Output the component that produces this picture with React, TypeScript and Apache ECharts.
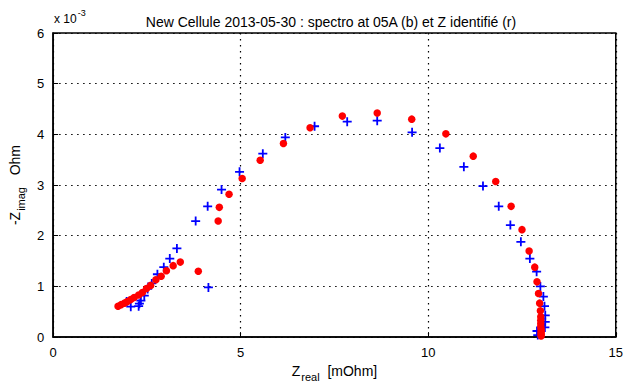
import React, { useEffect, useRef } from "react";
import * as echarts from "echarts";

const title = "New Cellule 2013-05-30 : spectro at 05A (b) et Z identifié (r)";
const xTicks = [0, 5, 10, 15];
const yTicks = [0, 1, 2, 3, 4, 5, 6];

// spectro (blue): [Zreal mOhm, -Zimag x1e-3 Ohm]
const spectroReal = [1.96, 2.07, 2.28, 2.30, 2.34, 2.43, 2.52, 2.63, 2.78, 2.95, 3.11, 3.30, 4.14,
  3.80, 4.12, 4.49, 4.97, 5.59, 6.19, 6.97, 7.84, 8.64, 9.57, 10.31, 10.95, 11.46, 11.88, 12.19,
  12.47, 12.71, 12.89, 12.99, 13.07, 13.10, 13.12, 13.12, 13.11, 12.90, 12.92];
const spectroImag = [0.70, 0.60, 0.61, 0.66, 0.72, 0.82, 0.95, 1.06, 1.24, 1.38, 1.55, 1.75, 0.98,
  2.29, 2.58, 2.91, 3.26, 3.62, 3.94, 4.16, 4.25, 4.27, 4.04, 3.73, 3.36, 2.98, 2.58, 2.21,
  1.88, 1.55, 1.29, 1.00, 0.80, 0.61, 0.43, 0.30, 0.19, 0.12, 0.04];

// identified (red)
const identReal = [1.73, 1.81, 1.90, 1.98, 2.07, 2.16, 2.28, 2.38, 2.49, 2.60, 2.74, 2.88, 3.02, 3.20,
  3.39, 3.87, 4.40, 4.43, 4.69, 5.04, 5.52, 6.14, 6.85, 7.71, 8.64, 9.56, 10.47, 11.20, 11.80, 12.21,
  12.50, 12.69, 12.84, 12.90, 12.94, 12.97, 12.99, 13.00, 13.00, 13.00, 13.00, 13.01, 13.01, 13.01,
  13.01, 13.01];
const identImag = [0.61, 0.64, 0.67, 0.70, 0.74, 0.78, 0.83, 0.88, 0.96, 1.02, 1.13, 1.20, 1.31, 1.41,
  1.48, 1.30, 2.29, 2.56, 2.82, 3.13, 3.49, 3.82, 4.13, 4.36, 4.42, 4.30, 4.01, 3.57, 3.07, 2.58,
  2.12, 1.70, 1.38, 1.09, 0.86, 0.67, 0.52, 0.40, 0.33, 0.27, 0.21, 0.16, 0.12, 0.08, 0.05, 0.02];

const FONT = "'Liberation Sans', Arial, Helvetica, sans-serif";
const PLUS = "path://M4,0H6V4H10V6H6V10H4V6H0V4H4Z";

export default function App() {
  const ref = useRef<HTMLDivElement>(null);
  useEffect(() => {
    if (!ref.current) return;
    const chart = echarts.init(ref.current, undefined, { renderer: "svg" });
    const blue = spectroReal.map((x, i) => [x, spectroImag[i]]);
    const red = identReal.map((x, i) => [x, identImag[i]]);
    const nameRich = {
      z: { fontSize: 14, color: "#000", fontFamily: FONT, verticalAlign: "top", lineHeight: 17 },
      s: { fontSize: 11, color: "#000", fontFamily: FONT, verticalAlign: "top", lineHeight: 13, padding: [7, 0, 0, 1] },
    };
    chart.setOption({
      animation: false,
      backgroundColor: "#fff",
      textStyle: { fontFamily: FONT },
      title: {
        text: title,
        left: 326,
        textAlign: "center",
        top: 10,
        textStyle: { fontSize: 14, fontWeight: "normal", color: "#000", fontFamily: FONT },
      },
      grid: {
        left: 53, right: 4, top: 33, bottom: 45,
        show: true, borderColor: "#000", borderWidth: 1.5, backgroundColor: "#fff",
      },
      xAxis: {
        type: "value", min: 0, max: 15, interval: 5,
        axisLine: { show: true, lineStyle: { color: "#000", width: 1.5 } },
        axisTick: { show: true, inside: true, length: 5, lineStyle: { color: "#000" } },
        axisLabel: { color: "#000", fontSize: 13, margin: 9, fontFamily: FONT,
          formatter: (v: number) => (xTicks.includes(v) ? String(v) : "") },
        splitLine: { show: true, lineStyle: { color: "#000", type: [1.5, 4.5], width: 1.2 } },
        name: "{z|Z}{s|real}{z|  [mOhm]}",
        nameLocation: "middle",
        nameGap: 24,
        nameTextStyle: { color: "#000", rich: nameRich },
      },
      yAxis: {
        type: "value", min: 0, max: 6, interval: 1,
        axisLine: { show: true, lineStyle: { color: "#000", width: 1.5 } },
        axisTick: { show: true, inside: true, length: 5, lineStyle: { color: "#000" } },
        axisLabel: { color: "#000", fontSize: 13, margin: 9, fontFamily: FONT,
          formatter: (v: number) => (yTicks.includes(v) ? String(v) : "") },
        splitLine: { show: true, lineStyle: { color: "#000", type: [1.5, 4.5], width: 1.2 } },
        name: "{z|-Z}{s|imag}{z|   Ohm}",
        nameLocation: "middle",
        nameRotate: 90,
        nameGap: 27,
        nameTextStyle: { color: "#000", rich: nameRich },
      },
      graphic: [
        {
          type: "text",
          left: 54,
          top: 8,
          style: {
            text: "{m|x 10}{p|-3}",
            rich: {
              m: { fontSize: 12, fill: "#000", fontFamily: FONT, padding: [5, 0, 0, 0], verticalAlign: "top" },
              p: { fontSize: 9, fill: "#000", fontFamily: FONT, verticalAlign: "top", padding: [0, 0, 0, 1] },
            },
          },
        },
      ],
      series: [
        {
          name: "spectro",
          type: "scatter",
          data: blue,
          symbol: PLUS,
          symbolSize: 9,
          itemStyle: { color: "#0000ff", opacity: 1 },
          z: 2,
        },
        {
          name: "identifié",
          type: "scatter",
          data: red,
          symbol: "circle",
          symbolSize: 7.5,
          itemStyle: { color: "#ff0000", opacity: 1 },
          z: 3,
        },
      ],
    });
    return () => chart.dispose();
  }, []);
  return (
    <div
      ref={ref}
      style={{ position: "fixed", left: 0, top: 0, width: 626, height: 387, background: "#fff" }}
    />
  );
}
